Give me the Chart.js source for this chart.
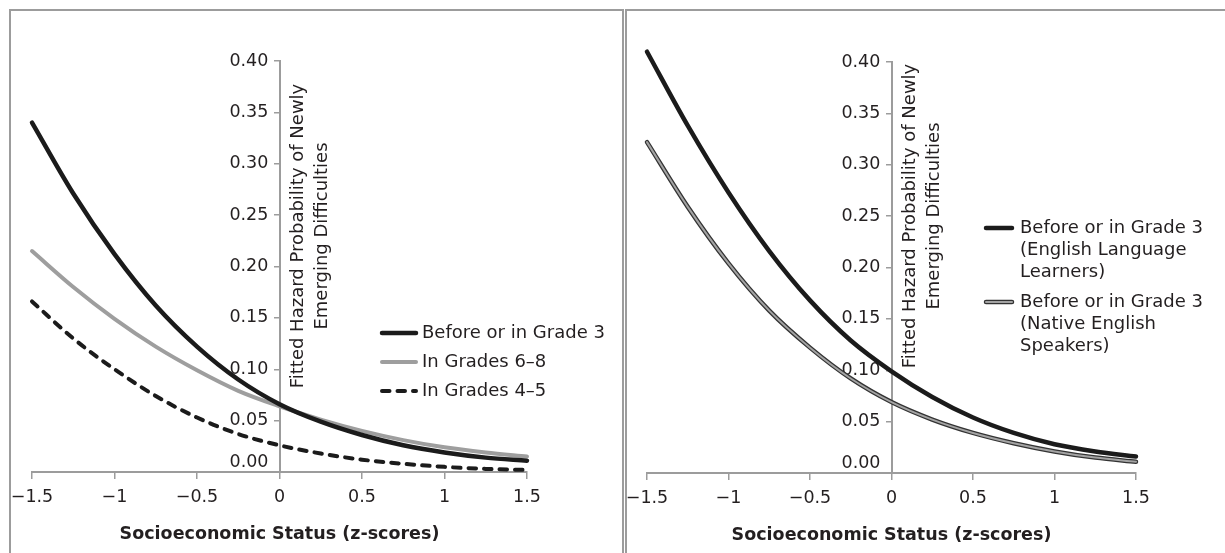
<!DOCTYPE html>
<html>
<head>
<meta charset="utf-8">
<title>Fitted hazard probability by SES</title>
<script src="https://cdn.jsdelivr.net/npm/chart.js@4.4.1/dist/chart.umd.min.js"></script>
<style>
  body { margin: 0; background: #fff; }
  #wrap { position: relative; width: 1225px; height: 553px; overflow: hidden; }
  .panel { position: absolute; top: 9px; height: 620px; border: 2px solid #9c9c9c; box-sizing: border-box; }
  canvas { position: absolute; left: 0; top: 0; }
</style>
</head>
<body>
<div id="wrap">
  <div class="panel" style="left:9px;width:615px"></div>
  <div class="panel" style="left:625px;width:700px"></div>
  <canvas id="leftChart" width="1225" height="553"></canvas>
  <canvas id="rightChart" width="1225" height="553"></canvas>
</div>
<script>
const sesScores = [-1.5, -1.25, -1, -0.75, -0.5, -0.25, 0, 0.25, 0.5, 0.75, 1, 1.25, 1.5];

const xTicks = [-1.5, -1, -0.5, 0, 0.5, 1, 1.5];
const xTickLabels = ['\u22121.5', '\u22121', '\u22120.5', '0', '0.5', '1', '1.5'];
const yTicks = [0, 0.05, 0.10, 0.15, 0.20, 0.25, 0.30, 0.35, 0.40];
const yTickLabels = ['0.00', '0.05', '0.10', '0.15', '0.20', '0.25', '0.30', '0.35', '0.40'];

const xTitle = 'Socioeconomic Status (z-scores)';
const yTitle = ['Fitted Hazard Probability of Newly', 'Emerging Difficulties'];

// left panel
const grade3 =   [0.340, 0.271, 0.212, 0.162, 0.122, 0.090, 0.066, 0.049, 0.036, 0.026, 0.019, 0.014, 0.011];
const grades68 = [0.215, 0.180, 0.149, 0.122, 0.099, 0.079, 0.064, 0.051, 0.040, 0.031, 0.024, 0.019, 0.015];
const grades45 = [0.166, 0.130, 0.100, 0.074, 0.053, 0.037, 0.026, 0.018, 0.012, 0.008, 0.005, 0.003, 0.002];

// right panel
const grade3ELL =    [0.410, 0.338, 0.273, 0.216, 0.168, 0.129, 0.099, 0.074, 0.054, 0.039, 0.028, 0.021, 0.016];
const grade3Native = [0.322, 0.259, 0.204, 0.158, 0.122, 0.092, 0.069, 0.052, 0.039, 0.029, 0.021, 0.015, 0.011];

const textColor = '#231f20';
const axisColor = '#9c9c9c';
Chart.defaults.font.family = '"DejaVu Sans", sans-serif';
Chart.defaults.color = textColor;

function toPoints(values) {
  return sesScores.map((x, i) => ({x: x, y: values[i]}));
}

function lineSet(label, values, color, width, order, dash) {
  return {
    label: label,
    data: toPoints(values),
    borderColor: color,
    borderWidth: width,
    borderDash: dash || [],
    borderCapStyle: 'round',
    pointRadius: 0,
    cubicInterpolationMode: 'monotone',
    fill: false,
    clip: false,
    order: order
  };
}

// axis titles, legend and the lifted 0.00 label
const decorPlugin = {
  id: 'decor',
  afterDraw(chart, args, opts) {
    const ctx = chart.ctx;
    const x0 = chart.scales.x.getPixelForValue(0);
    const y0 = chart.scales.y.getPixelForValue(0);
    ctx.save();
    ctx.fillStyle = textColor;

    ctx.font = '17.5px "DejaVu Sans"';
    ctx.textAlign = 'right';
    ctx.textBaseline = 'middle';
    ctx.fillText(yTickLabels[0], x0 - 11, y0 - 10);

    ctx.save();
    ctx.font = '18px "DejaVu Sans"';
    ctx.textAlign = 'center';
    ctx.translate(x0 + 19, opts.titleY);
    ctx.rotate(-Math.PI / 2);
    yTitle.forEach((line, i) => ctx.fillText(line, 0, i * 24));
    ctx.restore();

    const lg = opts.legend;
    ctx.font = '18px "DejaVu Sans"';
    ctx.textAlign = 'left';
    lg.items.forEach(item => {
      item.datasets.forEach(di => {
        const ds = chart.data.datasets[di];
        ctx.save();
        ctx.strokeStyle = ds.borderColor;
        ctx.lineWidth = ds.borderWidth;
        ctx.lineCap = 'round';
        ctx.setLineDash(ds.borderDash);
        ctx.beginPath();
        ctx.moveTo(lg.x, item.y);
        ctx.lineTo(lg.x + lg.swatch, item.y);
        ctx.stroke();
        ctx.restore();
      });
      item.lines.forEach((line, i) => ctx.fillText(line, lg.textX, item.y + i * lg.lineGap));
    });
    ctx.restore();
  }
};

function makeChart(id, area, datasets, titleY, legend) {
  return new Chart(document.getElementById(id), {
    type: 'line',
    data: {datasets: datasets},
    plugins: [decorPlugin],
    options: {
      responsive: false,
      animation: false,
      events: [],
      layout: {
        padding: {left: area.left, right: 1225 - area.right, top: area.top, bottom: 553 - area.bottom}
      },
      plugins: {
        legend: {display: false},
        tooltip: {enabled: false},
        decor: {titleY: titleY, legend: legend}
      },
      scales: {
        x: {
          type: 'linear',
          position: {y: 0},
          min: -1.5,
          max: 1.5,
          afterBuildTicks: s => { s.ticks = xTicks.map(v => ({value: v})); },
          ticks: {
            autoSkip: false,
            maxRotation: 0,
            padding: 9,
            font: {size: 17.5},
            callback: (v, i) => xTickLabels[i]
          },
          grid: {drawOnChartArea: false, drawTicks: true, tickLength: 6, color: axisColor, lineWidth: 1.5},
          border: {display: true, color: axisColor, width: 2},
          title: {
            display: true,
            text: xTitle,
            font: {size: 17.5, weight: 'bold'},
            padding: {top: 7, bottom: 0}
          }
        },
        y: {
          type: 'linear',
          position: {x: 0},
          min: 0,
          max: 0.4,
          afterBuildTicks: s => { s.ticks = yTicks.map(v => ({value: v})); },
          ticks: {
            autoSkip: false,
            padding: 6,
            font: {size: 17.5},
            // centre-positioned axis puts labels flush on the line, two spaces give the gap
            callback: (v, i) => (i === 0 ? '' : yTickLabels[i] + '  ')
          },
          grid: {drawOnChartArea: false, drawTicks: true, tickLength: 5, color: axisColor, lineWidth: 1.5},
          border: {display: true, color: axisColor, width: 2}
        }
      }
    }
  });
}

makeChart('leftChart', {left: 32, right: 527, top: 61, bottom: 472}, [
  lineSet('Before or in Grade 3', grade3, '#1b1b1b', 4.5, 0),
  lineSet('In Grades 6\u20138', grades68, '#9e9e9e', 4, 1),
  lineSet('In Grades 4\u20135', grades45, '#1b1b1b', 4, 2, [7.5, 8])
], 236, {
  x: 382, swatch: 34, textX: 422, lineGap: 22,
  items: [
    {y: 333, lines: ['Before or in Grade 3'], datasets: [0]},
    {y: 362, lines: ['In Grades 6\u20138'], datasets: [1]},
    {y: 391, lines: ['In Grades 4\u20135'], datasets: [2]}
  ]
});

makeChart('rightChart', {left: 647, right: 1136, top: 62, bottom: 473}, [
  lineSet('Before or in Grade 3 (English Language Learners)', grade3ELL, '#1b1b1b', 4.5, 0),
  lineSet('Before or in Grade 3 (Native English Speakers)', grade3Native, '#a3a3a3', 2, 1),
  lineSet('', grade3Native, '#333333', 4.5, 2)
], 216, {
  x: 986, swatch: 26, textX: 1020, lineGap: 22,
  items: [
    {y: 228, lines: ['Before or in Grade 3', '(English Language', 'Learners)'], datasets: [0]},
    {y: 302, lines: ['Before or in Grade 3', '(Native English', 'Speakers)'], datasets: [2, 1]}
  ]
});
</script>
</body>
</html>
